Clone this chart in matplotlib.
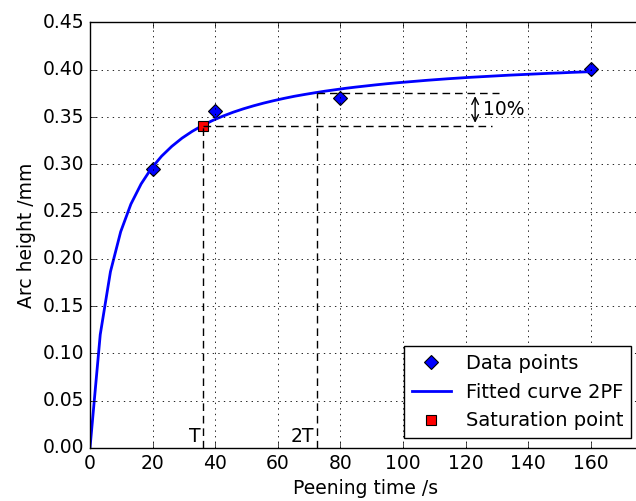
import matplotlib
matplotlib.use('Agg')
import matplotlib.pyplot as plt

# measured arc heights
t_data = [20, 40, 80, 160]
h_data = [0.295, 0.356, 0.370, 0.401]

# fitted curve 2PF
t_fit = [0, 3.27, 6.53, 9.80, 13.06, 16.33, 19.59, 22.86, 26.12, 29.39,
         32.65, 35.92, 39.18, 42.45, 45.71, 48.98, 52.24, 55.51, 58.78, 62.04,
         65.31, 68.57, 71.84, 75.10, 78.37, 81.63, 84.90, 88.16, 91.43, 94.69,
         97.96, 101.22, 104.49, 107.76, 111.02, 114.29, 117.55, 120.82, 124.08, 127.35,
         130.61, 133.88, 137.14, 140.41, 143.67, 146.94, 150.20, 153.47, 156.73, 160]
h_fit = [0.0, 0.1199, 0.1864, 0.2287, 0.2579, 0.2793, 0.2957, 0.3086, 0.3190, 0.3277,
         0.3349, 0.3411, 0.3464, 0.3510, 0.3551, 0.3587, 0.3619, 0.3648, 0.3674, 0.3698,
         0.3720, 0.3739, 0.3757, 0.3774, 0.3789, 0.3804, 0.3817, 0.3829, 0.3841, 0.3852,
         0.3862, 0.3871, 0.3880, 0.3889, 0.3897, 0.3905, 0.3912, 0.3919, 0.3925, 0.3931,
         0.3937, 0.3943, 0.3948, 0.3953, 0.3958, 0.3963, 0.3967, 0.3972, 0.3976, 0.3980]

# saturation point
T_sat = 36.2
h_sat = 0.341
h_2T = 0.375

plt.style.use('classic')
fig = plt.figure(figsize=(6.36, 5.01), dpi=100, facecolor='white')
ax = fig.add_axes([0.1415, 0.1058, 0.8665, 0.8493])

ax.plot(t_data, h_data, 'D', color='b', ms=7, mec='k', mew=0.8, label='Data points')
ax.plot(t_fit, h_fit, '-', color='b', lw=2, label='Fitted curve 2PF')
ax.plot([T_sat], [h_sat], 's', color='r', ms=7, mec='k', mew=0.8, label='Saturation point')

# construction lines
dash = dict(color='k', lw=1, dashes=(5.5, 3.5))
ax.plot([T_sat, T_sat], [0, h_sat], **dash)
ax.plot([2 * T_sat, 2 * T_sat], [0, h_2T], **dash)
ax.plot([T_sat, 128.5], [h_sat, h_sat], **dash)
ax.plot([2 * T_sat, 130.5], [h_2T, h_2T], **dash)
ax.annotate('', xy=(123, h_2T), xytext=(123, h_sat),
            arrowprops=dict(arrowstyle='<->', color='k', lw=1))
ax.text(125.5, (h_sat + h_2T) / 2, '10%', fontsize=13.5, ha='left', va='center')
ax.text(T_sat - 0.8, 0.002, 'T', fontsize=13.5, ha='right', va='bottom')
ax.text(2 * T_sat - 0.8, 0.002, '2T', fontsize=13.5, ha='right', va='bottom')

ax.set_xlim(0, 176)
ax.set_ylim(0, 0.45)
ax.set_xticks(range(0, 161, 20))
ax.set_yticks([i * 0.05 for i in range(10)])
ax.set_yticklabels(['%.2f' % (i * 0.05) for i in range(10)])
ax.tick_params(labelsize=13.5)
ax.grid(True, color='k', linestyle=':', lw=0.6)
ax.set_xlabel('Peening time /s', fontsize=13.5)
ax.set_ylabel('Arc height /mm', fontsize=13.5)
ax.legend(loc='lower right', numpoints=1, fontsize=14, fancybox=False)

fig.savefig('out.png', dpi=100, facecolor='white')
